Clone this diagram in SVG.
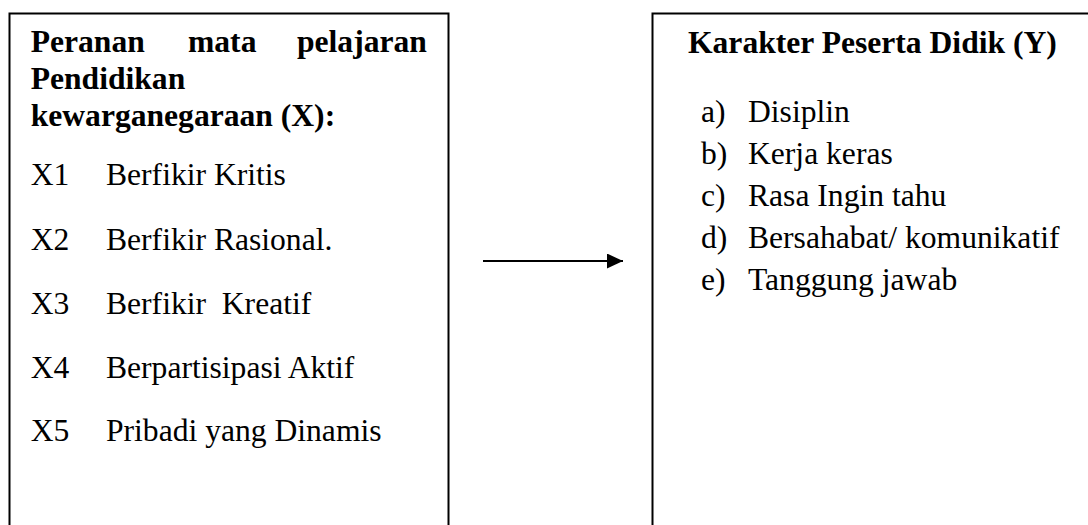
<svg xmlns="http://www.w3.org/2000/svg" width="1088" height="525" viewBox="0 0 1088 525">
<style>
.box{fill:#fff;stroke:#000;stroke-width:2}
.t{font-family:"Liberation Serif","Times New Roman",serif;font-size:31.6px;fill:#000}
.b{font-weight:bold}
.conn{stroke:#000;stroke-width:2;fill:none}
</style>
<defs>
<marker id="ah" markerWidth="16" markerHeight="15" refX="16" refY="7.5" orient="auto" markerUnits="userSpaceOnUse">
<polygon points="0,0 16,7.5 0,15" fill="#000"/>
</marker>
</defs>
<rect width="1088" height="525" fill="#fff"/>
<g id="nodeX">
<rect class="box" x="9.5" y="13.5" width="439" height="530"/>
<text class="t b" y="52"><tspan x="30.7">Peranan</tspan><tspan x="188">mata</tspan><tspan x="297">pelajaran</tspan></text>
<text class="t b" x="30.7" y="89">Pendidikan</text>
<text class="t b" x="30.7" y="126">kewarganegaraan (X):</text>
<text class="t" y="185"><tspan x="30.7">X1</tspan><tspan x="106">Berfikir Kritis</tspan></text>
<text class="t" y="250"><tspan x="30.7">X2</tspan><tspan x="106">Berfikir Rasional.</tspan></text>
<text class="t" y="314"><tspan x="30.7">X3</tspan><tspan x="106">Berfikir&#160; Kreatif</tspan></text>
<text class="t" y="378"><tspan x="30.7">X4</tspan><tspan x="106">Berpartisipasi Aktif</tspan></text>
<text class="t" y="441"><tspan x="30.7">X5</tspan><tspan x="106">Pribadi yang Dinamis</tspan></text>
</g>
<g id="nodeY">
<rect class="box" x="652.5" y="13.5" width="450" height="530"/>
<text class="t b" x="688" y="53">Karakter Peserta Didik (Y)</text>
<text class="t" y="122"><tspan x="701">a)</tspan><tspan x="748">Disiplin</tspan></text>
<text class="t" y="164"><tspan x="701">b)</tspan><tspan x="748">Kerja keras</tspan></text>
<text class="t" y="206"><tspan x="701">c)</tspan><tspan x="748">Rasa Ingin tahu</tspan></text>
<text class="t" y="248"><tspan x="701">d)</tspan><tspan x="748">Bersahabat/ komunikatif</tspan></text>
<text class="t" y="290"><tspan x="701">e)</tspan><tspan x="748">Tanggung jawab</tspan></text>
</g>
<g id="connectors">
<line class="conn" x1="483" y1="261" x2="623" y2="261" marker-end="url(#ah)"/>
</g>
</svg>
